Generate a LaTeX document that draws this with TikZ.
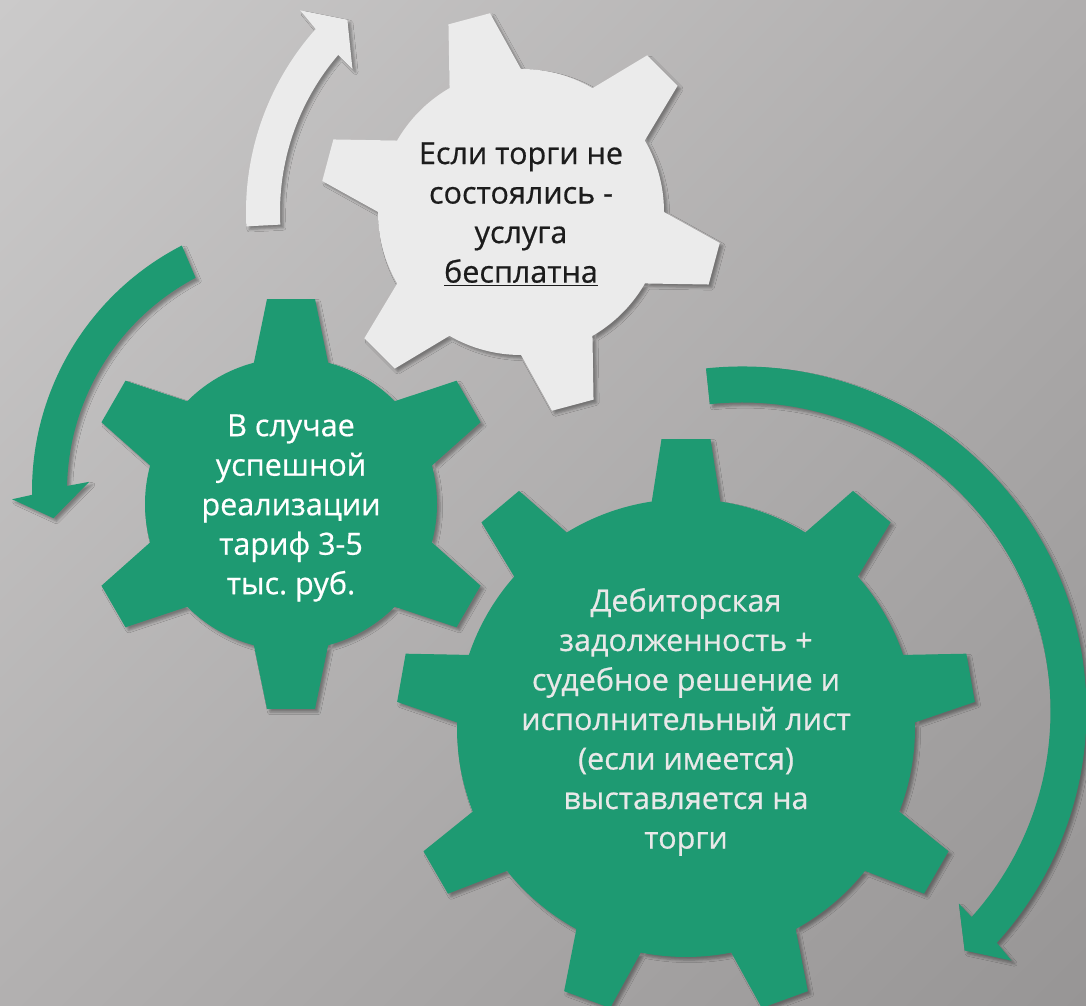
\documentclass[tikz,border=0pt]{standalone}
\usepackage{fontspec}
\setmainfont{Open Sans}
\newfontfamily\gearfont{Open Sans}[FakeBold=0.6]
\usetikzlibrary{shadings, shadows.blur}
\frenchspacing

\definecolor{gearGreen}{RGB}{30,154,114}
\definecolor{gearLight}{RGB}{235,235,235}
\definecolor{bgTL}{RGB}{203,202,202}
\definecolor{bgTR}{RGB}{176,174,174}
\definecolor{bgBL}{RGB}{178,176,176}
\definecolor{bgBR}{RGB}{151,149,149}
\definecolor{txtDark}{RGB}{28,28,28}
\definecolor{txtLight}{RGB}{232,232,232}

% #1 style, #2 centre, #3 teeth, #4 first tooth angle, #5 body radius,
% #6 tip radius, #7 tip half width, #8 base radius, #9 base half width
\newcommand{\gear}[9]{%
  \pgfmathsetmacro\gstep{360/#3}
  \pgfmathsetmacro\gtipA{atan(#7/#6)}
  \pgfmathsetmacro\gtipR{#6/cos(\gtipA)}
  \pgfmathsetmacro\gbaseA{atan(#9/#8)}
  \pgfmathsetmacro\gbaseR{#8/cos(\gbaseA)}
  \begin{scope}[shift={(#2)}]
    \fill[#1] (0,0) circle[radius=#5]
      \foreach \k in {1,...,#3}{
        ({#4+(\k-1)*\gstep-\gbaseA}:\gbaseR) -- ({#4+(\k-1)*\gstep-\gtipA}:\gtipR)
        -- ({#4+(\k-1)*\gstep+\gtipA}:\gtipR) -- ({#4+(\k-1)*\gstep+\gbaseA}:\gbaseR) -- cycle
      };
  \end{scope}}

\begin{document}
\begin{tikzpicture}[x=0.025cm, y=0.025cm]

	\tikzstyle{softshadow}=[blur shadow={shadow xshift=2.2pt, shadow yshift=-2.2pt, shadow blur radius=1.8pt, shadow opacity=35}]
	\tikzstyle{greengear}=[fill=gearGreen, softshadow]
	\tikzstyle{lightgear}=[fill=gearLight, softshadow]
	\tikzstyle{greenarrow}=[fill=gearGreen, softshadow]
	\tikzstyle{lightarrow}=[fill=gearLight, softshadow]
	\tikzstyle{geartext}=[align=center, inner sep=0pt, font=\gearfont\fontsize{21.7}{28.1}\selectfont]

	% background
	\useasboundingbox (0,0) rectangle (1086,1006);
	\shade[upper left=bgTL, upper right=bgTR, lower left=bgBL, lower right=bgBR] (0,0) rectangle (1086,1006);

	% circular arrows
	\begin{scope}[shift={(521,794)}]
		\fill[lightarrow] (183:275) arc[start angle=183, end angle=138.3, radius=275] -- (137.6:299) -- (132.1:259)
			-- (139.7:221) -- (139.3:241) arc[start angle=139.3, end angle=183, radius=241] -- cycle;
	\end{scope}
	\begin{scope}[shift={(308,515)}]
		\fill[greenarrow] (117.2:276) arc[start angle=117.2, end angle=180.8, radius=276] -- (181.6:296) -- (186.1:256)
			-- (177.6:219) -- (178.8:241) arc[start angle=178.8, end angle=117.8, radius=241] -- cycle;
	\end{scope}
	\begin{scope}[shift={(742,295)}]
		\fill[greenarrow] (96:344.5) arc[start angle=96, end angle=-42.3, radius=344.5] -- (-42.8:367.5) -- (-47.1:327)
			-- (-41.6:290) -- (-41.9:308.5) arc[start angle=-41.9, end angle=96, radius=308.5] -- cycle;
	\end{scope}

	% gears
	\gear{lightgear}{521,794}{6}{105}{143}{200}{21.5}{120}{41.5}
	\gear{greengear}{291,502}{6}{90}{146}{205}{24}{120}{41.5}
	\gear{greengear}{686,278}{9}{90}{229}{289}{24.5}{205}{37.6}

	% texts
	\node[geartext, text=txtDark] (free) at (521,792) {Если торги не\\состоялись -\\услуга\\\underline{бесплатна}};
	\node[geartext, text=white] (tariff) at (291,498) {В случае\\успешной\\реализации\\тариф 3-5\\тыс. руб.};
	\node[geartext, text=txtLight] (debt) at (686,284) {Дебиторская\\задолженность +\\судебное решение и\\исполнительный лист\\(если имеется)\\выставляется на\\торги};

\end{tikzpicture}
\end{document}
